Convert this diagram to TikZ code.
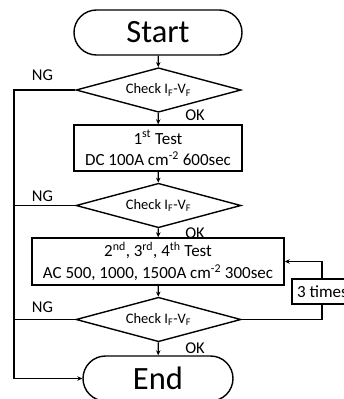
\documentclass[tikz,border=0pt]{standalone}
\usepackage{fontspec}
\setmainfont{Carlito}
\usetikzlibrary{shapes.geometric,arrows.meta}
\tikzset{
  base/.style={line width=1.4pt, draw=black},
  term/.style={base, rectangle, rounded corners=22.5pt, minimum height=45pt, inner sep=0pt, font=\fontsize{32.5}{39}\selectfont},
  chk/.style={base, diamond, aspect=3.75, minimum width=165pt, minimum height=44.5pt, inner sep=0pt, font=\fontsize{14.5}{17}\selectfont},
  proc/.style={base, rectangle, inner sep=0pt, align=center, font=\fontsize{17}{21.5}\selectfont},
  lbl/.style={font=\fontsize{16.5}{19}\selectfont, inner sep=0pt},
  conn/.style={line width=1.4pt},
  arr/.style={conn, -{Stealth[length=5pt,width=4.5pt]}},
}
\begin{document}
\begin{tikzpicture}[x=1pt,y=-1pt]
\useasboundingbox (0,0) rectangle (344,399);
\node[term, minimum width=168pt] (start) at (158,32.5) {Start};
\node[chk] (d1) at (158.5,90) {Check I\textsubscript{F}-V\textsubscript{F}};
\node[proc, minimum width=168pt, minimum height=46pt] (b1) at (158,148) {1\textsuperscript{st} Test\\DC 100A cm\textsuperscript{-2} 600sec};
\node[chk] (d2) at (158.5,205.5) {Check I\textsubscript{F}-V\textsubscript{F}};
\node[proc, minimum width=252pt, minimum height=47pt] (b2) at (158,261.5) {2\textsuperscript{nd}, 3\textsuperscript{rd}, 4\textsuperscript{th} Test\\AC 500, 1000, 1500A cm\textsuperscript{-2} 300sec};
\node[chk] (d3) at (158.5,319.5) {Check I\textsubscript{F}-V\textsubscript{F}};
\node[term, minimum width=150pt] (end) at (158,378.5) {End};

\draw[arr] (start) -- (d1);
\draw[arr] (d1) -- (b1);
\draw[arr] (b1) -- (d2);
\draw[arr] (d2) -- (b2);
\draw[arr] (b2) -- (d3);
\draw[arr] (d3) -- (end);

\coordinate (nl) at (14,378.5);
\draw[arr] (d1.west) -| (nl) -- (end.west);
\draw[conn] (d2.west) -- (d2.west -| nl);
\draw[conn] (d3.west) -- (d3.west -| nl);

\coordinate (lr) at (322,319.5);
\draw[arr] (d3.east) -- (lr) |- (b2.east);
\node[base, fill=white, inner sep=0pt, minimum width=61pt, minimum height=25pt, font=\fontsize{17}{20}\selectfont] (times) at (322.5,291.5) {3 times};

\node[lbl] (ng1) at (42.5,75) {NG};
\node[lbl] (ng2) at (42.5,196) {NG};
\node[lbl] (ng3) at (42.5,307.5) {NG};
\node[lbl] (ok1) at (195,115) {OK};
\node[lbl] (ok2) at (195,233) {OK};
\node[lbl] (ok3) at (195,348) {OK};
\end{tikzpicture}
\end{document}
